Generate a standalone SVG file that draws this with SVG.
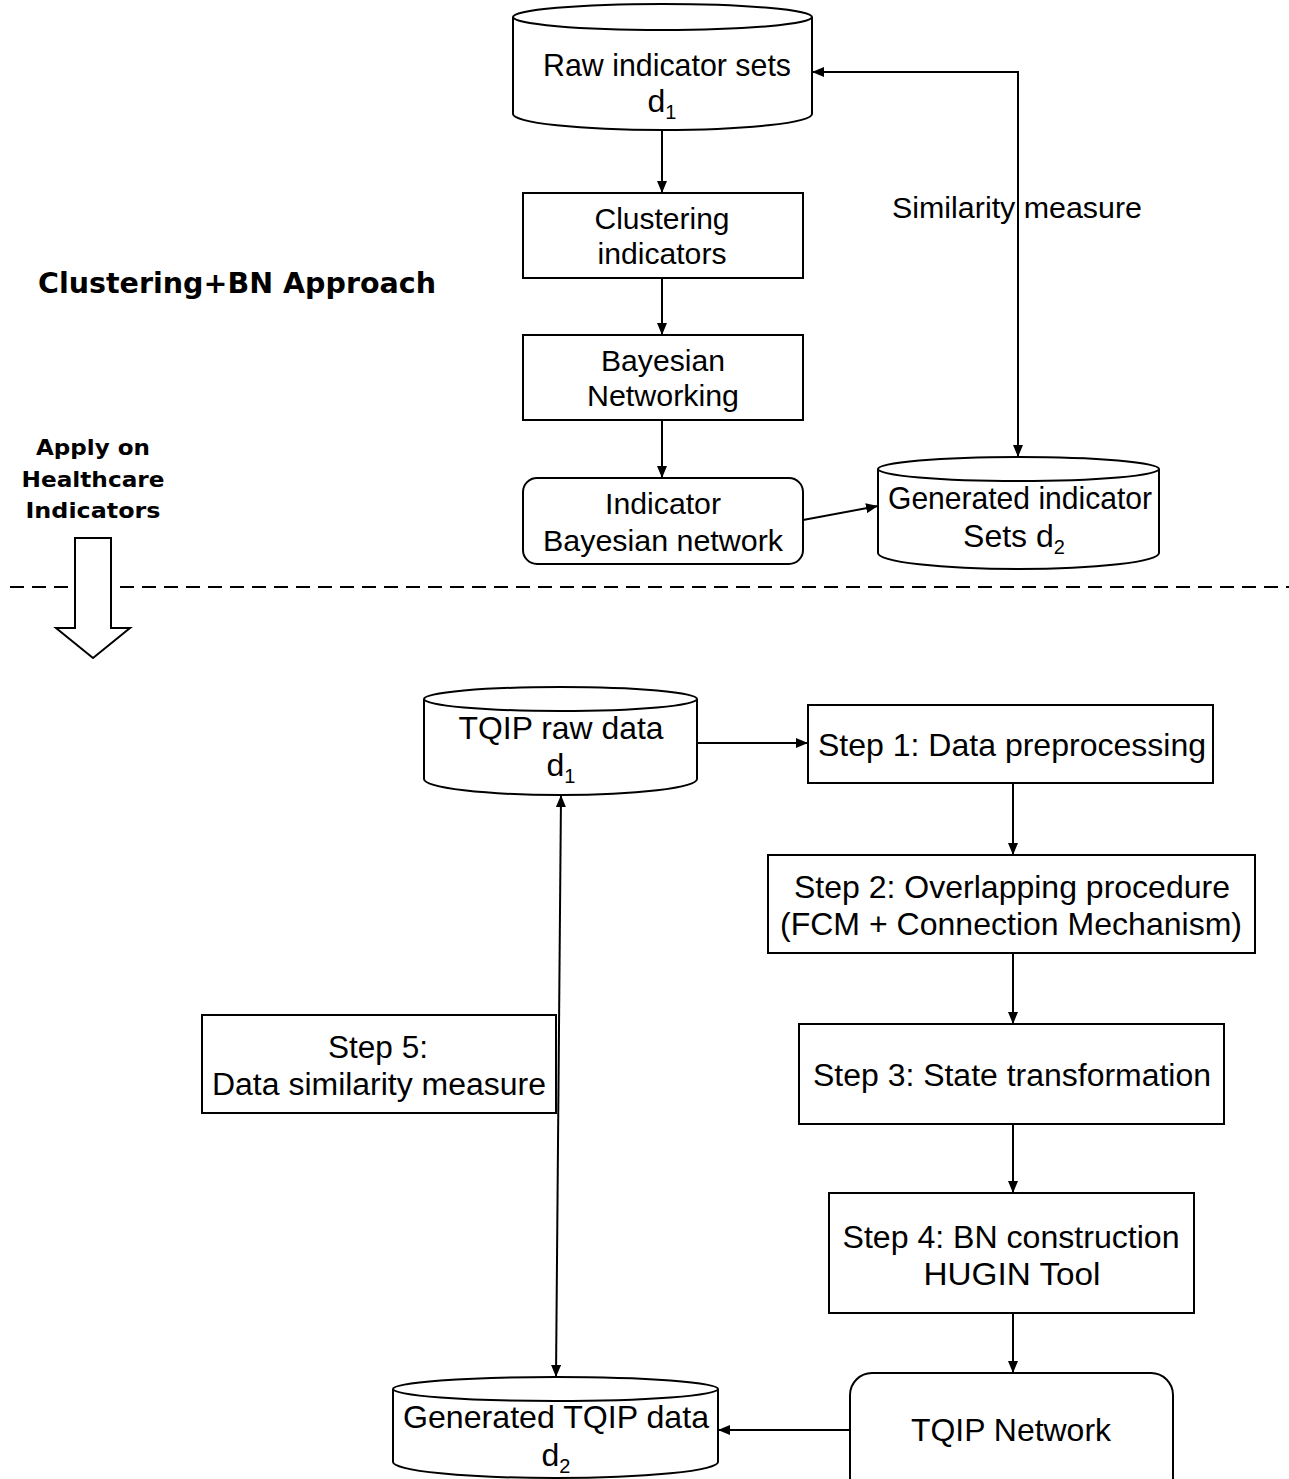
<svg xmlns="http://www.w3.org/2000/svg" width="1289" height="1479" viewBox="0 0 1289 1479">
  <defs>
    <marker id="arrow" markerUnits="userSpaceOnUse" markerWidth="12" markerHeight="10" refX="12" refY="5" orient="auto-start-reverse">
      <path d="M0,0 L12,5 L0,10 z" fill="#000"/>
    </marker>
    <style>
      .shape { fill: #fff; stroke: #000; stroke-width: 2; }
      .edge { fill: none; stroke: #000; stroke-width: 2; marker-end: url(#arrow); }
      .lbl { font-family: "Liberation Sans", Arial, sans-serif; font-size: 29px; fill: #000; text-anchor: middle; }
      .lbl2 { font-family: "Liberation Sans", Arial, sans-serif; font-size: 31px; fill: #000; text-anchor: middle; }
      .tall { font-size: 32px; }
      .sub { font-size: 20px; }
      .bold { font-family: "DejaVu Sans", "Liberation Sans", sans-serif; font-weight: bold; fill: #000; text-anchor: middle; }
    </style>
  </defs>
  <rect x="0" y="0" width="1289" height="1479" fill="#fff"/>

  <!-- section divider -->
  <line x1="10" y1="587" x2="1289" y2="587" stroke="#000" stroke-width="2" stroke-dasharray="14 8"/>

  <!-- approach captions -->
  <text class="bold" x="237" y="293" font-size="28" textLength="398" lengthAdjust="spacingAndGlyphs">Clustering+BN Approach</text>
  <g id="apply-label">
    <text class="bold" x="93" y="455" font-size="22" textLength="114" lengthAdjust="spacingAndGlyphs">Apply on</text>
    <text class="bold" x="93" y="487" font-size="22" textLength="143" lengthAdjust="spacingAndGlyphs">Healthcare</text>
    <text class="bold" x="93" y="518" font-size="22" textLength="135" lengthAdjust="spacingAndGlyphs">Indicators</text>
  </g>
  <!-- hollow block arrow -->
  <path id="apply-arrow" class="shape" d="M75,538 L111,538 L111,628 L130,628 L93,658 L56,628 L75,628 Z"/>

  <!-- ===== upper workflow ===== -->
  <g id="raw-indicator-sets">
    <path class="shape" d="M513,17 L513,114 A149.5,16 0 0 0 812,114 L812,17"/>
    <ellipse class="shape" cx="662.5" cy="17" rx="149.5" ry="13"/>
    <text class="lbl tall" x="667" y="76" textLength="248" lengthAdjust="spacingAndGlyphs">Raw indicator sets</text>
    <text class="lbl tall" x="662" y="112">d<tspan class="sub" dy="7">1</tspan></text>
  </g>

  <g id="clustering-indicators">
    <rect class="shape" x="523" y="193" width="280" height="85"/>
    <text class="lbl" x="662" y="229" textLength="135" lengthAdjust="spacingAndGlyphs">Clustering</text>
    <text class="lbl" x="662" y="264" textLength="129" lengthAdjust="spacingAndGlyphs">indicators</text>
  </g>

  <g id="bayesian-networking">
    <rect class="shape" x="523" y="335" width="280" height="85"/>
    <text class="lbl" x="663" y="371" textLength="124" lengthAdjust="spacingAndGlyphs">Bayesian</text>
    <text class="lbl" x="663" y="406" textLength="152" lengthAdjust="spacingAndGlyphs">Networking</text>
  </g>

  <g id="indicator-bayesian-network">
    <rect class="shape" x="523" y="478" width="280" height="86" rx="14" ry="14"/>
    <text class="lbl" x="663" y="514" textLength="116" lengthAdjust="spacingAndGlyphs">Indicator</text>
    <text class="lbl" x="663" y="551" textLength="240" lengthAdjust="spacingAndGlyphs">Bayesian network</text>
  </g>

  <g id="generated-indicator-sets">
    <path class="shape" d="M878,469 L878,553 A140.5,16 0 0 0 1159,553 L1159,469"/>
    <ellipse class="shape" cx="1018.5" cy="469" rx="140.5" ry="12"/>
    <text class="lbl tall" x="1020" y="509" textLength="264" lengthAdjust="spacingAndGlyphs">Generated indicator</text>
    <text class="lbl tall" x="1014" y="547">Sets d<tspan class="sub" dy="7">2</tspan></text>
  </g>

  <text id="similarity-label" class="lbl" x="1017" y="218" textLength="250" lengthAdjust="spacingAndGlyphs">Similarity measure</text>

  <!-- ===== lower workflow ===== -->
  <g id="tqip-raw-data">
    <path class="shape" d="M424,699 L424,779 A136.5,16 0 0 0 697,779 L697,699"/>
    <ellipse class="shape" cx="560.5" cy="699" rx="136.5" ry="12"/>
    <text class="lbl2 tall" x="561" y="739" textLength="205" lengthAdjust="spacingAndGlyphs">TQIP raw data</text>
    <text class="lbl2 tall" x="561" y="776">d<tspan class="sub" dy="7">1</tspan></text>
  </g>

  <g id="step1">
    <rect class="shape" x="808" y="705" width="405" height="78"/>
    <text class="lbl2 tall" x="1012" y="756" textLength="388" lengthAdjust="spacingAndGlyphs">Step 1: Data preprocessing</text>
  </g>

  <g id="step2">
    <rect class="shape" x="768" y="855" width="487" height="98"/>
    <text class="lbl2 tall" x="1012" y="898" textLength="436" lengthAdjust="spacingAndGlyphs">Step 2: Overlapping procedure</text>
    <text class="lbl2 tall" x="1011" y="935" textLength="462" lengthAdjust="spacingAndGlyphs">(FCM + Connection Mechanism)</text>
  </g>

  <g id="step3">
    <rect class="shape" x="799" y="1024" width="425" height="100"/>
    <text class="lbl2" x="1012" y="1086" textLength="398" lengthAdjust="spacingAndGlyphs">Step 3: State transformation</text>
  </g>

  <g id="step4">
    <rect class="shape" x="829" y="1193" width="365" height="120"/>
    <text class="lbl2" x="1011" y="1248" textLength="337" lengthAdjust="spacingAndGlyphs">Step 4: BN construction</text>
    <text class="lbl2" x="1012" y="1285" textLength="177" lengthAdjust="spacingAndGlyphs">HUGIN Tool</text>
  </g>

  <g id="tqip-network">
    <rect class="shape" x="850" y="1373" width="323" height="130" rx="22" ry="22"/>
    <text class="lbl2 tall" x="1011" y="1441" textLength="200" lengthAdjust="spacingAndGlyphs">TQIP Network</text>
  </g>

  <g id="generated-tqip-data">
    <path class="shape" d="M393,1389 L393,1462 A162.5,16 0 0 0 718,1462 L718,1389"/>
    <ellipse class="shape" cx="555.5" cy="1389" rx="162.5" ry="12"/>
    <text class="lbl2 tall" x="556" y="1428" textLength="306" lengthAdjust="spacingAndGlyphs">Generated TQIP data</text>
    <text class="lbl2 tall" x="556" y="1466">d<tspan class="sub" dy="7">2</tspan></text>
  </g>

  <g id="step5">
    <rect class="shape" x="202" y="1015" width="354" height="98"/>
    <text class="lbl2" x="378" y="1058" textLength="100" lengthAdjust="spacingAndGlyphs">Step 5:</text>
    <text class="lbl2" x="379" y="1095" textLength="334" lengthAdjust="spacingAndGlyphs">Data similarity measure</text>
  </g>

  <!-- connectors -->
  <g id="connectors">
    <line class="edge" x1="662" y1="130" x2="662" y2="193"/>
    <line class="edge" x1="662" y1="278" x2="662" y2="335"/>
    <line class="edge" x1="662" y1="420" x2="662" y2="478"/>
    <line class="edge" x1="803" y1="520" x2="878" y2="506"/>
    <path class="edge" style="marker-start:url(#arrow)" d="M1018,457 L1018,72 L812,72"/>
    <line class="edge" x1="697" y1="743" x2="808" y2="743"/>
    <line class="edge" x1="1013" y1="783" x2="1013" y2="855"/>
    <line class="edge" x1="1013" y1="953" x2="1013" y2="1024"/>
    <line class="edge" x1="1013" y1="1124" x2="1013" y2="1193"/>
    <line class="edge" x1="1013" y1="1313" x2="1013" y2="1373"/>
    <line class="edge" x1="850" y1="1430" x2="718" y2="1430"/>
    <line class="edge" style="marker-start:url(#arrow)" x1="561" y1="795" x2="556" y2="1377"/>
  </g>
</svg>
